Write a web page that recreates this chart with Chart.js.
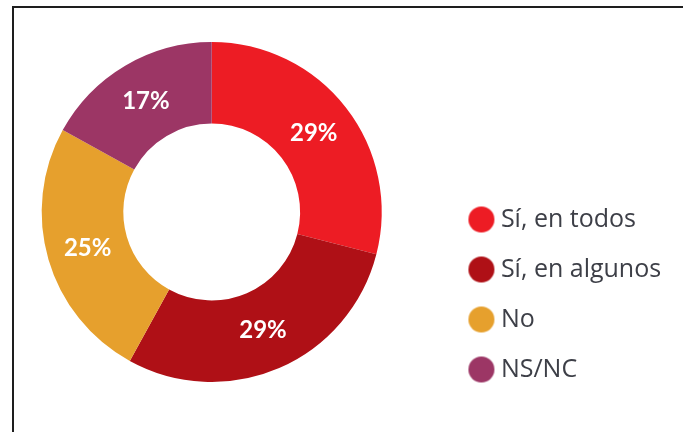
<!DOCTYPE html>
<html lang="es">
<head>
<meta charset="utf-8">
<title>Encuesta</title>
<script src="https://cdn.jsdelivr.net/npm/chart.js@4"></script>
<style>
    html, body { margin: 0; padding: 0; background: #fff; }
    #wrap { position: relative; width: 683px; height: 432px; overflow: hidden; }
    #frame {
        position: absolute; left: 12px; top: 6px; right: -10px; bottom: -10px;
        border-top: 2px solid #1e1e1e; border-left: 2px solid #1e1e1e;
        pointer-events: none;
    }
    canvas { position: absolute; left: 0; top: 0; }
</style>
</head>
<body>
<div id="wrap">
    <canvas id="chart" width="683" height="432"></canvas>
    <div id="frame"></div>
</div>
<script>
const categories = ['Sí, en todos', 'Sí, en algunos', 'No', 'NS/NC'];
const shares = [29, 29, 25, 17];
const sliceColors = ['#ED1C24', '#AF1016', '#E6A02D', '#9C3665'];

const LABEL_FONT = 'Lato, "Open Sans", sans-serif';
const LEGEND_FONT = '"Open Sans", sans-serif';
const LEGEND_SIZE = 25;
const LEGEND_BOX = 40;
const LEGEND_PAD = 25;

// Legend markers: filled dots drawn into small canvases, shifted right a bit
function makeDot(color) {
    const c = document.createElement('canvas');
    c.width = 54; c.height = 28;
    const g = c.getContext('2d');
    g.fillStyle = color;
    g.beginPath();
    g.arc(40, 14, 13, 0, Math.PI * 2);
    g.fill();
    return c;
}
const dots = sliceColors.map(makeDot);

// keep the ring's box ending at x≈423 whatever the legend text width is
const ctx = document.getElementById('chart').getContext('2d');
ctx.font = LEGEND_SIZE + 'px ' + LEGEND_FONT;
const widest = Math.max(...categories.map(t => ctx.measureText(t).width));
const legendWidth = LEGEND_PAD + LEGEND_BOX + LEGEND_SIZE / 2 + widest + 10;
const padRight = Math.max(0, 683 - 423.4 - legendWidth);

// Percent labels in the middle of each ring segment
const sliceLabels = {
    id: 'sliceLabels',
    afterDatasetsDraw(chart) {
        const c = chart.ctx;
        const meta = chart.getDatasetMeta(0);
        c.save();
        c.font = 'bold 24px ' + LABEL_FONT;
        c.fillStyle = '#fff';
        c.textAlign = 'center';
        c.textBaseline = 'middle';
        meta.data.forEach((arc, i) => {
            const p = arc.tooltipPosition();
            c.fillText(shares[i] + '%', p.x, p.y);
        });
        c.restore();
    }
};

new Chart(ctx, {
    type: 'doughnut',
    data: {
        labels: categories,
        datasets: [{
            data: shares,
            backgroundColor: sliceColors,
            borderWidth: 0,
            radius: 170,
            cutout: '52%'
        }]
    },
    options: {
        responsive: false,
        animation: false,
        layout: { padding: { left: 0, top: 0, right: padRight, bottom: 8 } },
        plugins: {
            tooltip: { enabled: false },
            legend: {
                position: 'right',
                align: 'start',
                title: { display: true, text: '', font: { size: 10 }, padding: { top: 170, bottom: 0 } },
                labels: {
                    usePointStyle: true,
                    pointStyleWidth: LEGEND_BOX,
                    padding: LEGEND_PAD,
                    color: '#3d3f47',
                    font: { family: LEGEND_FONT, size: LEGEND_SIZE },
                    generateLabels(chart) {
                        const base = Chart.overrides.doughnut.plugins.legend.labels.generateLabels(chart);
                        return base.map((item, i) => ({ ...item, pointStyle: dots[i] }));
                    }
                }
            }
        }
    },
    plugins: [sliceLabels]
});
</script>
</body>
</html>
